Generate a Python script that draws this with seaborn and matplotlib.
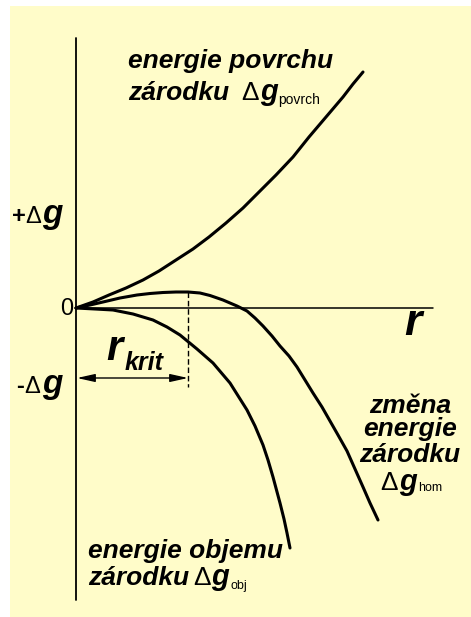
import numpy as np
import matplotlib
matplotlib.use("Agg")
import matplotlib.pyplot as plt
import seaborn as sns

# curves (r from origin, g above/below zero, arbitrary units)
r_povrch = [0.00, 0.17, 0.33, 0.50, 0.67, 0.83, 1.00, 1.17, 1.33, 1.50,
            1.67, 1.83, 2.00, 2.17, 2.33, 2.50, 2.67, 2.77, 2.87]
g_povrch = [0.00, 0.06, 0.13, 0.20, 0.28, 0.37, 0.48, 0.59, 0.71, 0.85,
            1.00, 1.16, 1.33, 1.51, 1.71, 1.91, 2.11, 2.24, 2.36]

r_obj = [0.00, 0.19, 0.37, 0.57, 0.77, 0.91, 1.04, 1.21, 1.37, 1.54,
         1.71, 1.79, 1.87, 1.92, 1.97, 2.04, 2.08, 2.11, 2.14]
g_obj = [0.00, -0.01, -0.02, -0.06, -0.12, -0.19, -0.27, -0.41, -0.55, -0.75,
         -1.02, -1.18, -1.37, -1.52, -1.69, -1.95, -2.11, -2.25, -2.40]

r_hom = [0.00, 0.14, 0.27, 0.44, 0.61, 0.74, 0.87, 1.00, 1.12, 1.24, 1.34,
         1.47, 1.54, 1.61, 1.71, 1.79, 1.87, 1.96, 2.04, 2.13, 2.21, 2.29,
         2.37, 2.46, 2.54, 2.62, 2.71, 2.79, 2.87, 2.94, 3.02]
g_hom = [0.00, 0.03, 0.06, 0.10, 0.13, 0.145, 0.155, 0.16, 0.16, 0.15, 0.125,
         0.08, 0.05, 0.02, -0.03, -0.10, -0.18, -0.28, -0.38, -0.48, -0.59, -0.72,
         -0.85, -0.99, -1.13, -1.27, -1.43, -1.61, -1.79, -1.95, -2.12]

r_krit = 1.12
g_krit = 0.16

bg = "#FFFCC9"

sns.set_style("white")
plt.rcParams["font.family"] = ["Liberation Sans", "DejaVu Sans"]

fig = plt.figure(figsize=(4.71, 6.17), dpi=100)
fig.patch.set_facecolor("white")
ax = fig.add_axes([10 / 471, 0, 461 / 471, 611 / 617])
ax.set_facecolor(bg)
ax.set_xlim(-0.66, 3.95)
ax.set_ylim(-3.09, 3.02)
ax.set_xticks([])
ax.set_yticks([])
for s in ax.spines.values():
    s.set_visible(False)


def pos(x, y):
    # picture pixel -> data coordinates
    return (x - 76) / 100, (308 - y) / 100


# axes
ax.plot([0, 0], [2.70, -2.92], color="black", lw=1.3)
ax.plot([0, 3.57], [0, 0], color="black", lw=1.1)

# curves
line_kw = dict(ax=ax, color="black", lw=2.2, estimator=None, sort=False,
               solid_joinstyle="round", solid_capstyle="round")
sns.lineplot(x=r_povrch, y=g_povrch, **line_kw)
sns.lineplot(x=r_obj, y=g_obj, **line_kw)
sns.lineplot(x=r_hom, y=g_hom, **line_kw)

# r_krit marker
ax.plot([r_krit, r_krit], [g_krit, -0.79], color="black", lw=1.0, ls=(0, (4, 2)))
ya = pos(0, 378)[1]
ax.annotate("", xy=(0.01, ya), xytext=(r_krit, ya),
            arrowprops=dict(arrowstyle="<|-|>,head_length=0.9,head_width=0.2",
                            color="black", lw=1.0, mutation_scale=12,
                            shrinkA=0, shrinkB=0))

bi = dict(fontweight="bold", fontstyle="italic", color="black", va="baseline")
rg = dict(color="black", va="baseline")

# axis labels
ax.text(*pos(12, 223), "+", fontsize=17, fontweight="bold", **rg)
ax.text(*pos(25, 223), "Δ", fontsize=17, **rg)
ax.text(*pos(42, 223), "g", fontsize=24, **bi)
ax.text(*pos(60, 315), "0", fontsize=17, **rg)
ax.text(*pos(16, 393), "-", fontsize=17, fontweight="bold", **rg)
ax.text(*pos(24, 393), "Δ", fontsize=17, **rg)
ax.text(*pos(42, 393), "g", fontsize=24, **bi)
ax.text(*pos(404, 335), "r", fontsize=32, **bi)
ax.text(*pos(106, 360), "r", fontsize=30, **bi)
ax.text(*pos(125, 370), "krit", fontsize=18, **bi)

# surface energy label
ax.text(*pos(128, 68), "energie povrchu", fontsize=19, **bi)
ax.text(*pos(128, 100), "zárodku", fontsize=19, **bi)
ax.text(*pos(241, 100), "Δ", fontsize=19, **rg)
ax.text(*pos(260, 100), "g", fontsize=21, **bi)
ax.text(*pos(278, 104), "povrch", fontsize=10, **rg)

# total change label
for txt, yb in [("změna", 413), ("energie", 436), ("zárodku", 462)]:
    x, y = pos(410, yb)
    ax.text(x, y, txt, fontsize=19, ha="center", **bi)
ax.text(*pos(380, 490), "Δ", fontsize=19, **rg)
ax.text(*pos(399, 490), "g", fontsize=21, **bi)
ax.text(*pos(418, 491), "hom", fontsize=9, **rg)

# volume energy label
ax.text(*pos(88, 558), "energie objemu", fontsize=19, **bi)
ax.text(*pos(88, 585), "zárodku", fontsize=19, **bi)
ax.text(*pos(193, 585), "Δ", fontsize=19, **rg)
ax.text(*pos(211, 585), "g", fontsize=21, **bi)
ax.text(*pos(231, 589), "obj", fontsize=9, **rg)

fig.savefig("out.png", dpi=100, facecolor=fig.get_facecolor())
